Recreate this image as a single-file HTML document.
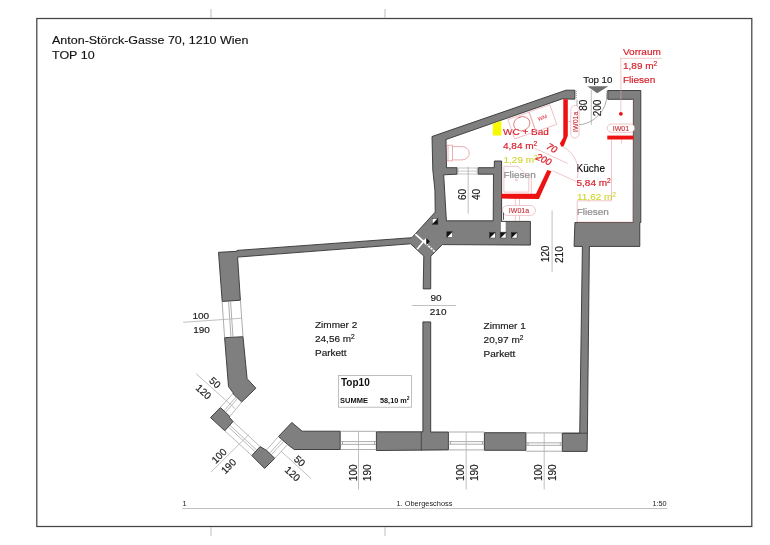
<!DOCTYPE html>
<html><head><meta charset="utf-8">
<style>
html,body{margin:0;padding:0;background:#fff;width:770px;height:545px;overflow:hidden}
svg{display:block;will-change:transform}
text{font-family:"Liberation Sans",sans-serif}
</style></head><body>
<svg width="770" height="545" viewBox="0 0 770 545">
<!-- frame -->
<rect x="36.8" y="18.5" width="715" height="508" fill="none" stroke="#444" stroke-width="1.25"/>
<g stroke="#c8c8c8" stroke-width="1.2">
<line x1="211" y1="9" x2="211" y2="18"/><line x1="385" y1="9" x2="385" y2="18"/>
<line x1="211" y1="527" x2="211" y2="536"/><line x1="385" y1="527" x2="385" y2="536"/>
</g>
<text x="52" y="44.3" font-size="12.5" fill="#111" stroke="#111" stroke-width="0.15" transform="matrix(1,0,0,0.92,0,3.544)">Anton-Störck-Gasse 70, 1210 Wien</text>
<text x="52" y="58.8" font-size="12.5" fill="#111" stroke="#111" stroke-width="0.15" transform="matrix(1,0,0,0.92,0,4.704)">TOP 10</text>
<!-- footer -->
<line x1="182" y1="508.5" x2="667.5" y2="508.5" stroke="#c2c2c2" stroke-width="1"/>
<text x="182.5" y="506.2" font-size="7.3" fill="#222" transform="matrix(1,0,0,0.96,0,20.248)">1</text>
<text x="396.5" y="506.2" font-size="7.4" fill="#222" transform="matrix(1,0,0,0.96,0,20.248)">1. Obergeschoss</text>
<text x="652.5" y="506.2" font-size="7.3" fill="#222" transform="matrix(1,0,0,0.96,0,20.248)">1:50</text>

<!-- walls -->
<g fill="#7f7f7f" stroke="#333" stroke-width="0.9" stroke-linejoin="miter">
<path d="M218.5,252.3 L237,251.3 L237,250.4 L411.8,237.7 L435.2,212.1 L434.9,190 L432.8,170 L432,136.5 L566,90.2 L574.8,90.2 L574.8,99.2 L562.1,98.9 L446,139.5 L446.5,167.7 L457,167.7 L457,174.2 L443.7,174.8 L446.4,220.8 L493.2,220.8 L493.5,174.2 L478.2,174.2 L478.2,167.7 L494.2,167.7 L494.4,161 L501.6,161 L501.6,221.4 L530.4,221.4 L530.4,245.1 L442.3,244.6 L430.8,256.1 L430.7,288.9 L423.2,288.9 L423.8,256.1 L410.6,243.8 L237.6,257.1 L240.4,300.2 L222.2,301.5 Z"/>
<path d="M607.8,90.5 L640.8,90.5 L640.8,222.5 L639.8,222.5 L639.8,246.4 L589.4,246.4 L587.4,433.2 L587.1,451.4 L562.3,451.4 L562.3,433.2 L579.7,433.2 L582.4,246.4 L574.1,246.4 L574.9,222.5 L633.2,222.5 L633.5,99.3 L607.8,99.3 Z"/>
<path d="M484.4,432.7 L525.9,432.7 L525.9,450.3 L484.4,450.3 Z"/>
<path d="M376.4,431.8 L422.9,431.8 L422.9,321.9 L430.7,321.9 L430.7,432 L448.4,432 L448.4,449.9 L376.4,450.5 Z"/>
<path d="M278.5,436.5 L291.8,422.5 L302.2,431.2 L340.2,431.2 L340.2,449.5 L294.2,449.5 L287.6,444.5 Z"/>
<path d="M251.8,455.6 L260.1,446.6 L266.3,450.2 L274.8,458.3 L264.6,468.4 Z"/>
<path d="M210.5,417.6 L220.4,407.5 L229.8,416.5 L229.5,417.5 L233.1,421.5 L224.8,430.8 Z"/>
<path d="M224.6,337.7 L243,336.7 L247.1,378.7 L255.9,388.2 L241.7,402 L232.9,393.6 L232.9,392.5 L228.5,386.6 Z"/>
</g>

<!-- windows -->
<g fill="none" stroke="#8a8a8a" stroke-width="0.7">
<!-- bottom windows -->
<path d="M340.2,431.3 H376.4 M340.2,441.6 H376.4 M340.2,444.4 H376.4 M340.2,449.5 H376.4 M342.5,441.6 V444.4 M374.5,441.6 V444.4"/>
<path d="M448.4,432 H484.4 M448.4,441.6 H484.4 M448.4,444.2 H484.4 M448.4,449.9 H484.4 M450.5,441.6 V444.2 M482.5,441.6 V444.2"/>
<path d="M525.9,432.9 H562.3 M525.9,442.8 H562.3 M525.9,445.3 H562.3 M525.9,451.2 H562.3 M528,442.8 V445.3 M560.3,442.8 V445.3"/>
<!-- left window -->
<path d="M222.1,301.3 L224.6,337.7 M240.4,300.2 L243,336.7 M228.5,301 L231,337.3 M230.5,300.9 L233,337.2"/>
</g>
<g fill="none" stroke="#8a8a8a" stroke-width="0.6"><path d="M232.9,393.6 L220.4,407.5 M241.7,402.0 L229.8,416.5 M236.2,396.8 L224.0,410.9 M237.7,398.2 L225.6,412.4"/><path d="M224.8,430.8 L251.8,455.6 M233.1,421.5 L260.1,446.6 M228.3,426.9 L255.3,451.8 M229.8,425.2 L256.8,450.2"/><path d="M274.8,458.3 L287.6,444.5 M266.3,450.2 L278.5,436.5 M271.2,454.9 L283.8,441.1 M269.5,453.3 L282.0,439.5"/></g>
<!-- dimension lines -->
<g stroke="#b0b0b0" stroke-width="0.8" fill="none">
<line x1="358.5" y1="431" x2="358.5" y2="489.5"/>
<line x1="466.2" y1="432" x2="466.2" y2="489.5"/>
<line x1="544.2" y1="433" x2="544.2" y2="489.5"/>
<line x1="183.2" y1="322.3" x2="242" y2="318.2"/>
<line x1="411.9" y1="305.5" x2="455.9" y2="305.5"/>
<line x1="552.1" y1="210.5" x2="552.1" y2="272"/>
<line x1="468.2" y1="167" x2="468.2" y2="213.7"/>
<line x1="591.3" y1="90" x2="591.3" y2="125"/>
<line x1="196.1" y1="373.7" x2="235" y2="408.5"/>
<line x1="281.5" y1="451.6" x2="310.8" y2="478.4"/>
<line x1="211" y1="472.1" x2="249" y2="434.5"/>
</g>
<!-- texts dark -->
<g font-size="10" fill="#1a1a1a" stroke="#1a1a1a" stroke-width="0.18">
<text x="583.3" y="83.2" font-size="9.7" transform="matrix(1,0,0,0.96,0,3.328)">Top 10</text>
<text x="315" y="327.6" transform="matrix(1,0,0,0.96,0,13.104)">Zimmer 2</text>
<text x="315" y="342.2" transform="matrix(1,0,0,0.96,0,13.688)">24,56 m<tspan font-size="6.6" dy="-3.1">2</tspan></text>
<text x="315" y="356.2" transform="matrix(1,0,0,0.96,0,14.248)">Parkett</text>
<text x="483.6" y="328.7" transform="matrix(1,0,0,0.96,0,13.148)">Zimmer 1</text>
<text x="483.6" y="343.2" transform="matrix(1,0,0,0.96,0,13.728)">20,97 m<tspan font-size="6.6" dy="-3.1">2</tspan></text>
<text x="483.6" y="357.3" transform="matrix(1,0,0,0.96,0,14.292)">Parkett</text>
<text x="576.6" y="171.7" stroke-width="0.1" fill="#000" stroke="#000">Küche</text>
<text x="430.5" y="301.4" transform="matrix(1,0,0,0.96,0,12.056)">90</text>
<text x="429.8" y="315.3" transform="matrix(1,0,0,0.96,0,12.612)">210</text>
<text x="192.5" y="319.4" transform="matrix(1,0,0,0.96,0,12.776)">100</text>
<text x="193.2" y="333.3" transform="matrix(1,0,0,0.96,0,13.332)">190</text>
</g>
<g font-size="10" fill="#1a1a1a" stroke="#1a1a1a" stroke-width="0.18" text-anchor="middle" dominant-baseline="central">
<text transform="translate(462.6,194.4) rotate(-90)">60</text>
<text transform="translate(476.6,194.4) rotate(-90)">40</text>
<text transform="translate(583.9,105.2) rotate(-90)">80</text>
<text transform="translate(597.6,108) rotate(-90)">200</text>
<text transform="translate(545,254) rotate(-90)">120</text>
<text transform="translate(559,254.6) rotate(-90)">210</text>
<text transform="translate(460.9,472.7) rotate(-90)">100</text>
<text transform="translate(474.4,472.7) rotate(-90)">190</text>
<text transform="translate(538.8,472.7) rotate(-90)">100</text>
<text transform="translate(552.3,472.7) rotate(-90)">190</text>
<text transform="translate(353.1,472.8) rotate(-90)">100</text>
<text transform="translate(367.1,472.8) rotate(-90)">190</text>
<text transform="translate(215.1,382.7) rotate(42)">50</text>
<text transform="translate(203.6,391.8) rotate(42)">120</text>
<text transform="translate(299.7,461) rotate(42)">50</text>
<text transform="translate(292.6,473.8) rotate(42)">120</text>
<text transform="translate(219.1,455.9) rotate(-45)">100</text>
<text transform="translate(228.6,466.2) rotate(-45)">190</text>
</g>
<!-- red texts -->
<g font-size="10" fill="#da1f2a" stroke="#da1f2a" stroke-width="0.2">
<text x="623" y="54.8" transform="matrix(1,0,0,0.96,0,2.192)">Vorraum</text>
<text x="623" y="69.1" transform="matrix(1,0,0,0.96,0,2.764)">1,89 m<tspan font-size="6.6" dy="-3.1">2</tspan></text>
<text x="623" y="83.4" transform="matrix(1,0,0,0.96,0,3.336)">Fliesen</text>
<text x="503" y="134.7" transform="matrix(1,0,0,0.96,0,5.388)">WC + Bad</text>
<text x="503" y="149" transform="matrix(1,0,0,0.96,0,5.960)">4,84 m<tspan font-size="6.6" dy="-3.1">2</tspan></text>
<text x="576.5" y="186.2" transform="matrix(1,0,0,0.96,0,7.448)">5,84 m<tspan font-size="6.6" dy="-3.1">2</tspan></text>
</g>
<g font-size="10" fill="#cfd52c" stroke="#cfd52c" stroke-width="0.12">
<text x="503.5" y="163.2" transform="matrix(1,0,0,0.96,0,6.528)">1,29 m<tspan font-size="6.6" dy="-3.1">2</tspan></text>
<text x="577" y="199.9" transform="matrix(1,0,0,0.96,0,7.996)">11,62 m<tspan font-size="6.6" dy="-3.1">2</tspan></text>
</g>
<g font-size="10" fill="#8c8c8c" stroke="#8c8c8c" stroke-width="0.2">
<text x="503.5" y="178" transform="matrix(1,0,0,0.96,0,7.120)">Fliesen</text>
<text x="576.7" y="215.1" transform="matrix(1,0,0,0.96,0,8.604)">Fliesen</text>
</g>


<g stroke="#333" stroke-width="0.7">
<line x1="421.3" y1="431.8" x2="421.3" y2="450.5"/>
<line x1="562.3" y1="433.2" x2="587.5" y2="433.2"/>
</g>
<g stroke="#555" stroke-width="0.5">
<path d="M575.5,91 l1.5,0.8 M575.5,93 l1.5,0.8 M575.5,95 l1.5,0.8 M575.5,97 l1.5,0.8 M606,91 l1.5,0.8 M606,93 l1.5,0.8 M606,95 l1.5,0.8 M606,97 l1.5,0.8"/>
</g>
<path d="M577.5,222 H633 V99.5" fill="none" stroke="#e8a0a4" stroke-width="0.5"/>
<!-- red / furniture details -->
<g fill="none" stroke="#e8a0a4" stroke-width="0.6">
<!-- Vorraum leader lines -->
<path d="M620.3,58.3 H661.6 M620.9,58.3 V113.8"/>
<path d="M611.5,139.3 V200.8 H577.2 V222 M621.6,139.3 V143.5 M515.3,198.5 V205.5 M519.5,198.5 V205.5 M515.3,215.4 V221 M519.5,215.4 V221"/>
<path d="M533.7,147.8 L567.6,163.4 M552.5,170.8 L575.9,181.3"/>
<path d="M563,146.9 A27,27 0 0 1 577.2,178.1"/>
<path d="M565,121.4 H576"/>
<!-- toilet -->
<path d="M446.5,145.2 H452.5 V160.8 H446.5 M448,145.2 V160.8 M452.5,146.6 H462 A7.3,6.65 0 0 1 462,159.9 H452.5" stroke="#de7880"/>
<!-- shower -->
<path d="M503.9,166.3 H517.8 L528.8,177.3 V192.1 H503.9 Z M531.3,178 V193.8"/>
<circle cx="516.5" cy="179.8" r="1"/>
</g>
<g fill="none" stroke="#e8a0a4" stroke-width="0.6" transform="translate(446,139.3) rotate(-19.05)">
<rect x="65" y="1.5" width="22.5" height="20.5"/>
<rect x="87.5" y="1.2" width="22" height="20.8"/>
<ellipse cx="76.7" cy="10" rx="8.2" ry="7" stroke="#de6a72" stroke-width="0.8"/><path d="M76.7,2.5 l-1,1.5 h2 z" fill="#de6a72" stroke="none"/>
<text x="98.2" y="12.8" font-size="5.5" fill="#da1f2a" stroke="none" text-anchor="middle" transform="matrix(1,0,0,0.96,0,0.512)">WM</text>
</g>
<!-- door arc top -->
<g fill="none" stroke="#888" stroke-width="0.7">
<path d="M607.1,93.3 A31,31 0 0 1 576.6,125"/>
<path d="M577,99.5 V125"/>
</g>
<!-- arrow -->
<path d="M587.3,86.2 L608.3,86.2 L597.2,93.3 Z" fill="#6e6e6e"/>
<!-- red walls -->
<g fill="#ee1111" stroke="none">
<path d="M563.3,99.3 H567.8 V135.7 L563.7,146.2 L561.5,146.8 L559.8,143.5 L563.3,137.4 Z"/>
<path d="M501.3,193.8 H536 L547.3,170 L551.4,171.2 L538.9,199 L501.3,198.6 Z"/>
<rect x="607.3" y="135.6" width="26.2" height="3.9"/>
<circle cx="620.9" cy="113.8" r="1.9"/>
</g>
<path d="M492.8,123.8 L501.3,120.8 V135.6 H492.8 Z" fill="#f8f800"/>
<!-- IW pills -->
<g fill="#fff" stroke="#e8a0a4" stroke-width="0.6">
<rect x="607.3" y="124" width="27.3" height="8.3" rx="4.15"/>
<rect x="502.4" y="205.5" width="33" height="9.9" rx="4.95"/>
<rect x="570.8" y="105.5" width="8.3" height="32.5" rx="4.15"/>
</g>
<g font-size="7" fill="#c8303a" stroke="#c8303a" stroke-width="0.12" text-anchor="middle">
<text x="621" y="131" transform="matrix(1,0,0,0.96,0,5.240)">IW01</text>
<text x="519" y="213.2" transform="matrix(1,0,0,0.96,0,8.528)">IW01a</text>
<text transform="translate(575,121.8) rotate(-90)" y="2.5">IW01a</text>
</g>
<g font-size="9.5" fill="#da1f2a" stroke="#da1f2a" stroke-width="0.25" text-anchor="middle" dominant-baseline="central" font-style="italic">
<text transform="translate(552,147.8) rotate(30)">70</text>
<text transform="translate(543.8,159.3) rotate(25)">200</text>
</g>

<!-- door frame lines storage -->
<g fill="none" stroke="#a0a0a0" stroke-width="0.6">
<path d="M457,168 H478.2 M457,171.1 H478.2 M457,174 H478.2 M458,168 V174 M477.2,168 V174"/>
</g>
<path d="M503.5,212.6 V219.8" stroke="#333" stroke-width="0.8"/>
<rect x="500.9" y="222" width="4.8" height="9.9" fill="#fff"/>
<!-- markers -->
<g stroke="#222" stroke-width="0.4">
<g transform="translate(435,221.4)"><rect x="-2.8" y="-2.8" width="5.6" height="5.6" fill="#fff"/><path d="M2.8,-2.8 L2.8,2.8 L-2.8,2.8 Z" fill="#111"/></g>
<g transform="translate(449.7,234.6)"><rect x="-2.8" y="-2.8" width="5.6" height="5.6" fill="#fff"/><path d="M-2.8,-2.8 L2.8,-2.8 L-2.8,2.8 Z" fill="#111"/></g>
<g transform="translate(492.4,235.2)"><rect x="-2.8" y="-2.8" width="5.6" height="5.6" fill="#fff"/><path d="M-2.8,-2.8 L2.8,-2.8 L-2.8,2.8 Z" fill="#111"/></g>
<g transform="translate(503.2,235.2)"><rect x="-2.8" y="-2.8" width="5.6" height="5.6" fill="#fff"/><path d="M-2.8,-2.8 L2.8,-2.8 L-2.8,2.8 Z" fill="#111"/></g>
<g transform="translate(514.2,235.2)"><rect x="-2.8" y="-2.8" width="5.6" height="5.6" fill="#fff"/><path d="M-2.8,-2.8 L2.8,-2.8 L-2.8,2.8 Z" fill="#111"/></g>
</g>
<!-- junction white lines -->
<g stroke="#fff" stroke-width="1.7">
<line x1="415.3" y1="234.1" x2="426" y2="243.6"/>
<line x1="426" y1="243.6" x2="434.7" y2="251.7" stroke-dasharray="2.2,1"/>
<line x1="417.1" y1="249.2" x2="424.4" y2="240.2"/>
</g>
<path d="M426.2,237.8 L429.8,241.4 L426.2,245 Z" fill="#111"/>
<path d="M426.2,237.8 L422.9,241.4 L426.2,245 Z" fill="#fff"/>
<!-- Top10 box -->
<rect x="338.5" y="375.5" width="73" height="31.7" fill="#fff" stroke="#b0b0b0" stroke-width="0.8"/>
<text x="341" y="385.8" font-size="10" font-weight="bold" fill="#111">Top10</text>
<text x="340" y="402.7" font-size="7.5" font-weight="bold" fill="#111">SUMME</text>
<text x="380" y="402.7" font-size="7.3" font-weight="bold" fill="#111">58,10 m<tspan font-size="5" dy="-3">2</tspan></text>
</svg>
</body></html>
